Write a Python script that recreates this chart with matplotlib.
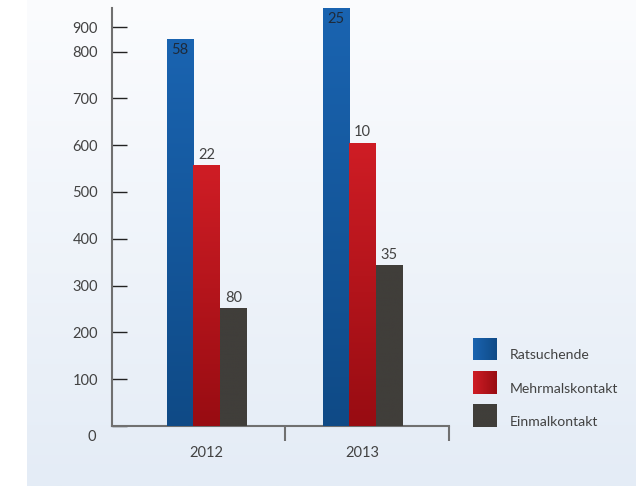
import numpy as np
import matplotlib
matplotlib.use("Agg")
import matplotlib.pyplot as plt
from matplotlib.colors import LinearSegmentedColormap

# Data
years = ["2012", "2013"]
series = ["Ratsuchende", "Mehrmalskontakt", "Einmalkontakt"]
ratsuchende = [827, 893]
mehrmalskontakt = [557, 605]
einmalkontakt = [252, 344]
bar_labels = [["58", "22", "80"], ["25", "10", "35"]]
ytick_values = [0, 100, 200, 300, 400, 500, 600, 700, 800, 852]
ytick_labels = ["", "100", "200", "300", "400", "500", "600", "700", "800", "900"]

plt.rcParams["font.family"] = ["Lato", "DejaVu Sans"]
text_color = "#424242"

fig = plt.figure(figsize=(6.36, 4.86), dpi=100)

# Soft blue panel behind the chart
bg = fig.add_axes([27 / 636, 0, 1 - 27 / 636, 1], zorder=0)
grad = np.linspace(0, 1, 256).reshape(-1, 1)
bg_cmap = LinearSegmentedColormap.from_list("bg", ["#e4ecf6", "#fbfcfe"])
bg.imshow(grad, aspect="auto", cmap=bg_cmap, origin="lower", extent=[0, 1, 0, 1])
bg.set_axis_off()

ax = fig.add_axes([112 / 636, 60 / 486, 337 / 636, 418 / 486], zorder=1)
ax.patch.set_alpha(0)

x = np.arange(len(years))
w = 0.171
offsets = [-w, 0, w]
values = [ratsuchende, mehrmalskontakt, einmalkontakt]
gradients = [
    ("#0f4a86", "#1a64b1"),
    ("#980c12", "#cf1d25"),
    ("#403e3a", "#403e3a"),
]

for vals, off, (c_lo, c_hi) in zip(values, offsets, gradients):
    bars = ax.bar(x + off, vals, width=w, color=c_hi, linewidth=0, zorder=2)
    cmap = LinearSegmentedColormap.from_list("g", [c_lo, c_hi])
    for b in bars:
        x0, y0 = b.get_x(), b.get_y()
        im = ax.imshow(grad, aspect="auto", cmap=cmap, origin="lower",
                       extent=[x0, x0 + b.get_width(), y0, y0 + b.get_height()],
                       zorder=3)
        im.set_clip_path(b)

# Value labels
for gi in range(len(years)):
    for si, off in enumerate(offsets):
        v = values[si][gi]
        txt = bar_labels[gi][si]
        if si == 0:
            ax.annotate(txt, (x[gi] + off, v), xytext=(0, -8), textcoords="offset points",
                        ha="center", va="center", fontsize=10.5, color="#1e2a3a", zorder=4)
        else:
            ax.annotate(txt, (x[gi] + off, v), xytext=(0, 7.5), textcoords="offset points",
                        ha="center", va="center", fontsize=10.5, color=text_color, zorder=4)

ax.set_xlim(-0.607, 1.553)
ax.set_ylim(0, 893)

for s in ["top", "right"]:
    ax.spines[s].set_visible(False)
for s in ["left", "bottom"]:
    ax.spines[s].set_color("#707070")
    ax.spines[s].set_linewidth(1.5)

ax.set_yticks(ytick_values)
ax.set_yticklabels(ytick_labels)
ax.tick_params(axis="y", direction="in", length=11, width=1, color="#222222",
               labelsize=10.5, labelcolor=text_color, pad=10)
ax.text(-0.06, -9, "0", transform=ax.get_yaxis_transform(), ha="center", va="top",
        fontsize=10.5, color=text_color)

# Category ticks between groups, labels at the group centres
ax.set_xticks([0.5, 1.553])
ax.set_xticklabels([])
ax.tick_params(axis="x", direction="out", length=11, width=1.5, color="#707070")
for xi, yr in zip(x, years):
    ax.annotate(yr, (xi, 0), xytext=(0, -19.5), textcoords="offset points",
                xycoords=ax.get_xaxis_transform(), ha="center", va="center",
                fontsize=10.5, color=text_color)

# Legend with gradient squares
leg_y = [349, 382.5, 415.5]
leg_cmaps = [LinearSegmentedColormap.from_list("h", [hi, lo]) for lo, hi in gradients]
hgrad = np.linspace(0, 1, 256).reshape(1, -1)
for name, yc, cm in zip(series, leg_y, leg_cmaps):
    la = fig.add_axes([472.5 / 636, (486 - yc - 11.5) / 486, 23 / 636, 23 / 486], zorder=2)
    la.imshow(hgrad, aspect="auto", cmap=cm, extent=[0, 1, 0, 1])
    la.set_axis_off()
    fig.text(510 / 636, (486 - yc - 6) / 486, name, ha="left", va="center",
             fontsize=10.1, color=text_color)

fig.savefig("out.png", dpi=100)
